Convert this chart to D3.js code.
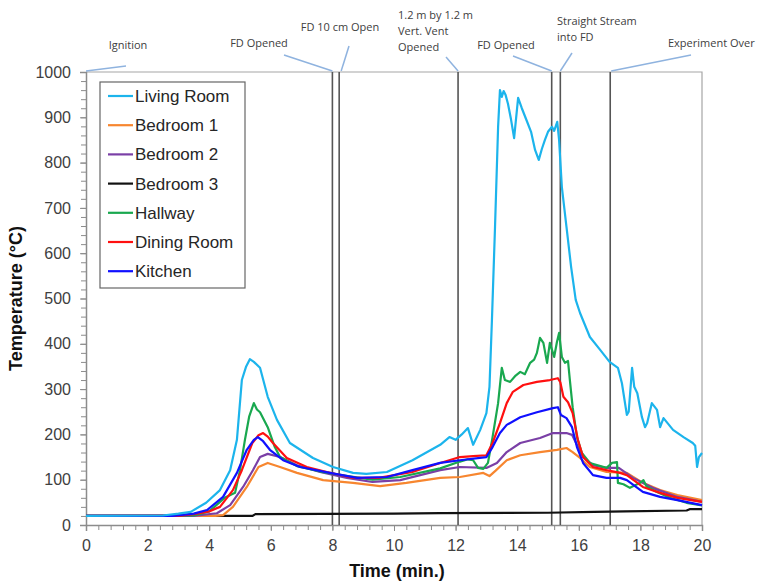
<!DOCTYPE html>
<html>
<head>
<meta charset="utf-8">
<script src="https://cdn.jsdelivr.net/npm/d3@7"></script>
<style>
  body { margin: 0; background: #fff; }
  svg { display: block; }
</style>
</head>
<body>
<script>
// Series (time in min, temperature in degC)
var livingT = [0,2.5,3.0,3.4,3.9,4.35,4.68,4.9,5.06,5.2,5.32,5.45,5.65,5.9,6.2,6.62,7.37,8.02,8.67,9.1,9.77,10.6,11.5,11.8,12.0,12.2,12.4,12.57,12.8,13.0,13.1,13.18,13.28,13.38,13.44,13.5,13.56,13.62,13.7,13.8,13.9,14.03,14.15,14.3,14.45,14.58,14.7,14.8,14.9,15.0,15.13,15.2,15.3,15.36,15.45,15.6,15.75,15.9,16.04,16.36,16.7,17.0,17.27,17.4,17.56,17.62,17.73,17.8,17.9,18.05,18.15,18.22,18.37,18.54,18.64,18.75,19.06,19.4,19.7,19.78,19.84,19.9,20];
var livingV = [20,21,25,29,49,77,121,188,320,350,366,360,347,283,232,181,148,128,115,113,117,143,177,194,188,200,214,177,210,247,305,453,658,879,960,945,958,950,930,895,854,943,920,894,868,828,806,830,850,868,879,870,890,850,746,658,570,497,468,415,386,360,347,313,243,250,347,305,291,238,216,225,269,254,216,236,210,194,181,175,128,150,159];

var bed1T = [0,4.2,4.45,4.77,5.22,5.6,5.9,6.3,6.85,7.7,8.67,9.55,10.4,11.5,12.14,12.9,13.1,13.3,13.66,14.1,14.74,15.29,15.6,15.8,16.04,16.36,16.9,17.56,18.08,18.64,19.2,20];
var bed1V = [20,20,22,40,84,128,137,128,115,99,93,86,93,104,106,115,108,120,143,154,161,166,170,161,148,128,117,115,93,77,66,55];

var bed2T = [0,3.5,4.25,4.68,5.1,5.42,5.65,5.9,6.3,6.85,7.6,8.47,9.3,10.2,11.5,12.14,13.0,13.34,13.66,14.1,14.74,15.16,15.6,15.78,15.94,16.14,16.46,16.9,17.3,17.76,18.4,19.2,20];
var bed2V = [20,20,26,44,84,121,150,157,150,132,117,104,95,99,121,128,126,137,161,181,192,203,203,199,177,150,132,126,126,104,82,62,51];

var bed3T = [0,5.4,5.5,10,11.5,15,16.5,17.5,19.5,19.6,20];
var bed3V = [20,20,24,25,26,27,29,30,32,35,35];

var hallT = [0,3.5,4.0,4.5,4.84,5.0,5.16,5.3,5.45,5.55,5.65,5.9,6.13,6.3,6.85,7.6,8.5,9.3,10.2,11.5,12.14,12.4,12.57,12.73,12.9,13.05,13.2,13.38,13.5,13.6,13.77,13.95,14.1,14.25,14.42,14.55,14.64,14.74,14.85,14.97,15.06,15.2,15.29,15.36,15.45,15.55,15.65,15.71,15.8,15.94,16.1,16.36,16.9,17.08,17.24,17.27,17.45,17.66,17.99,18.1,18.2,18.54,18.96,19.5,20];
var hallV = [20,21,30,60,71,121,188,240,269,255,249,216,172,150,130,118,108,100,106,125,140,145,143,126,124,137,194,269,347,320,316,330,338,333,358,365,380,413,402,358,402,371,404,424,371,358,362,320,260,194,159,137,126,137,139,93,90,82,93,99,85,73,60,49,43];

var diningT = [0,3.0,3.5,4.0,4.35,4.77,5.06,5.4,5.6,5.75,5.9,6.07,6.52,7.17,7.82,8.67,9.5,10.6,11.5,12.14,12.57,13.0,13.2,13.44,13.66,13.86,14.2,14.64,15.06,15.32,15.4,15.5,15.65,15.8,15.97,16.14,16.46,16.9,17.34,17.56,18.08,18.64,19.2,20];
var diningV = [20,20,24,30,40,77,121,181,198,203,195,181,148,128,117,104,104,117,137,150,152,154,181,225,269,294,309,316,320,324,315,283,271,247,188,150,128,121,115,110,84,71,60,51];

var kitchenT = [0,2.8,3.5,3.93,4.45,4.9,5.22,5.45,5.58,5.75,5.97,6.4,6.95,7.92,8.8,9.77,10.6,11.5,12.14,13.0,13.2,13.44,13.66,14.1,14.64,15.16,15.32,15.42,15.6,15.78,15.94,16.14,16.46,16.9,17.34,17.56,18.08,18.64,19.2,20];
var kitchenV = [20,20,25,33,62,115,166,188,194,185,166,143,128,115,104,106,121,137,143,150,172,203,221,238,249,258,260,243,236,216,172,137,110,104,104,99,73,62,55,44];

var seriesNames = ["Living Room","Bedroom 1","Bedroom 2","Bedroom 3","Hallway","Dining Room","Kitchen"];
var seriesColors = ["#1cb4ec","#f7862f","#7a3fa6","#111111","#19a84f","#ff1010","#1010ff"];
var seriesTimes = [livingT, bed1T, bed2T, bed3T, hallT, diningT, kitchenT];
var seriesVals = [livingV, bed1V, bed2V, bed3V, hallV, diningV, kitchenV];
// drawing order: Bedroom 3 and the low ones first, living room on top
var drawOrder = [3,1,2,4,5,6,0];

// event markers
var eventTimes = [0, 8.0, 8.22, 12.08, 15.12, 15.4, 17.02];
var eventLabels = [["Ignition"],["FD Opened"],["FD 10 cm Open"],["1.2 m by 1.2 m","Vert. Vent","Opened"],["FD Opened"],["Straight Stream","into FD"],["Experiment Over"]];

var xTicks = [0,2,4,6,8,10,12,14,16,18,20];
var yTicks = [0,100,200,300,400,500,600,700,800,900,1000];

var W = 763, H = 582;
var margin = {top: 72, right: 61, bottom: 57, left: 86},
    width = W - margin.left - margin.right,
    height = H - margin.top - margin.bottom;

var FONT = "'Liberation Sans', Arial, sans-serif";

var svg = d3.select("body").append("svg")
  .attr("width", W)
  .attr("height", H);

var x = d3.scaleLinear().domain([0,20]).range([margin.left, margin.left + width]);
var y = d3.scaleLinear().domain([0,1000]).range([margin.top + height, margin.top]);

// plot frame (top + right)
svg.append("path")
  .attr("d", "M" + x(0) + "," + y(1000) + "H" + x(20) + "V" + y(0))
  .attr("fill", "none")
  .attr("stroke", "#a6a6a6")
  .attr("stroke-width", 1.2);

// minor ticks
var xAxisMinor = d3.axisBottom(x).tickValues(d3.range(0, 20.01, 0.4)).tickSize(5).tickFormat("");
var yAxisMinor = d3.axisLeft(y).tickValues(d3.range(0, 1000.1, 20)).tickSize(5).tickFormat("");

var gxm = svg.append("g").attr("transform", "translate(0," + y(0) + ")").call(xAxisMinor);
var gym = svg.append("g").attr("transform", "translate(" + x(0) + ",0)").call(yAxisMinor);
[gxm, gym].forEach(function(g) {
  g.select(".domain").remove();
  g.selectAll("line").attr("stroke", "#8c8c8c");
});

var xAxis = d3.axisBottom(x).tickValues(xTicks).tickSize(6).tickPadding(9).tickFormat(d3.format("d"));
var yAxis = d3.axisLeft(y).tickValues(yTicks).tickSize(6).tickPadding(9).tickFormat(d3.format("d"));

var gx = svg.append("g").attr("transform", "translate(0," + y(0) + ")").call(xAxis);
var gy = svg.append("g").attr("transform", "translate(" + x(0) + ",0)").call(yAxis);
[gx, gy].forEach(function(g) {
  g.select(".domain").attr("stroke", "#8c8c8c").attr("stroke-width", 1.5);
  g.selectAll("line").attr("stroke", "#8c8c8c");
  g.selectAll("text")
    .attr("fill", "#404040")
    .style("font-family", FONT)
    .style("font-size", "16px");
});

// axis titles
svg.append("text")
  .attr("x", (x(0) + x(20)) / 2 + 3)
  .attr("y", 577)
  .attr("text-anchor", "middle")
  .style("font-family", FONT)
  .style("font-size", "18px")
  .style("font-weight", "bold")
  .attr("fill", "#111")
  .text("Time (min.)");

svg.append("text")
  .attr("transform", "translate(22," + ((y(0) + y(1000)) / 2) + ") rotate(-90)")
  .attr("text-anchor", "middle")
  .style("font-family", FONT)
  .style("font-size", "18px")
  .style("font-weight", "bold")
  .attr("fill", "#111")
  .text("Temperature (°C)");

// event vertical lines (not the ignition one)
svg.append("g").selectAll("line")
  .data(eventTimes.slice(1))
  .enter().append("line")
  .attr("x1", d => x(d)).attr("x2", d => x(d))
  .attr("y1", y(1000)).attr("y2", y(0))
  .attr("stroke", "#555")
  .attr("stroke-width", 1.6);

// data lines
var line = d3.line()
  .x(d => x(d[0]))
  .y(d => y(d[1]));

svg.append("g").selectAll("path")
  .data(drawOrder)
  .enter().append("path")
  .attr("d", function(i) {
    return line(seriesTimes[i].map(function(t, j) { return [t, seriesVals[i][j]]; }));
  })
  .attr("fill", "none")
  .attr("stroke", i => seriesColors[i])
  .attr("stroke-width", 2.2)
  .attr("stroke-linejoin", "round");

// annotation labels with leader lines
// text position, anchor, and far end of the leader line
var annot = [
  {tx: 128, ty: 49, anchor: "middle", lx: 126, ly: 66},
  {tx: 259, ty: 47, anchor: "middle", lx: 284, ly: 55},
  {tx: 340, ty: 31, anchor: "middle", lx: 349, ly: 46},
  {tx: 398, ty: 19, anchor: "start", lx: 446, ly: 57},
  {tx: 506, ty: 49, anchor: "middle", lx: 513, ly: 56},
  {tx: 557, ty: 25, anchor: "start", lx: 572, ly: 53},
  {tx: 668, ty: 47, anchor: "start", lx: 691, ly: 55}
];

var ga = svg.append("g");
eventTimes.forEach(function(t, i) {
  var a = annot[i];
  ga.append("line")
    .attr("x1", x(t) + (i == 2 ? 2 : (i == 6 ? 1 : 0)))
    .attr("y1", y(1000) - 1)
    .attr("x2", a.lx).attr("y2", a.ly)
    .attr("stroke", "#8fb3df")
    .attr("stroke-width", 1.5);
  var txt = ga.append("text")
    .attr("x", a.tx).attr("y", a.ty)
    .attr("text-anchor", a.anchor)
    .style("font-family", "'Open Sans', sans-serif")
    .style("font-size", "11px")
    .attr("fill", "#404040");
  eventLabels[i].forEach(function(s, k) {
    txt.append("tspan").attr("x", a.tx).attr("dy", k == 0 ? 0 : 16).text(s);
  });
});

// legend
var legend = svg.append("g");
legend.append("rect")
  .attr("x", 100).attr("y", 82)
  .attr("width", 145).attr("height", 206)
  .attr("fill", "#fff")
  .attr("stroke", "#666")
  .attr("stroke-width", 1.2);

var items = legend.selectAll("g.item")
  .data(seriesNames)
  .enter().append("g")
  .attr("class", "item")
  .attr("transform", (d, i) => "translate(0," + (96 + i * 29.2) + ")");

items.append("line")
  .attr("x1", 108).attr("x2", 133)
  .attr("stroke", (d, i) => seriesColors[i])
  .attr("stroke-width", 2.2);

items.append("text")
  .attr("x", 135).attr("y", 6)
  .style("font-family", FONT)
  .style("font-size", "17px")
  .attr("fill", "#262626")
  .text(d => d);
</script>
</body>
</html>
